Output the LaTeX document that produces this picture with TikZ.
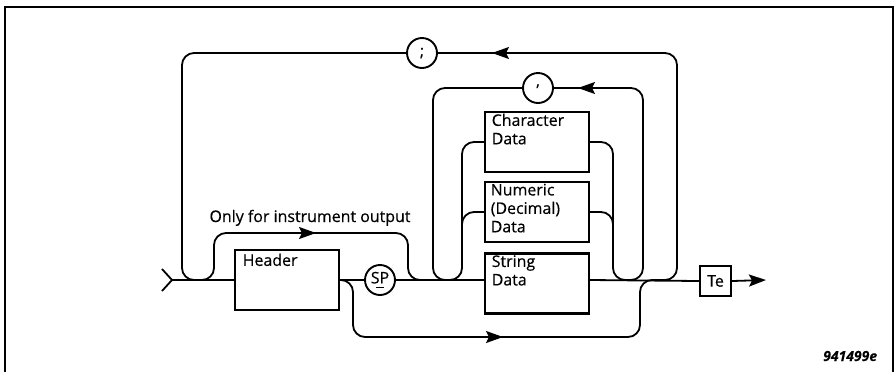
\documentclass[tikz,border=0pt]{standalone}
\usepackage{fontspec}
\setmainfont{Open Sans}[FakeBold=0.4]
\newfontfamily\figfont{Open Sans}[FakeBold=0.2]
\usetikzlibrary{arrows.meta}
\begin{document}
\begin{tikzpicture}[x=1bp,y=-1bp, line width=1.8bp,
  box/.style={draw, line width=2.3bp, minimum width=104bp, minimum height=60bp, inner sep=0pt},
  circ/.style={draw, circle, minimum size=30bp, inner sep=0pt, line width=1.9bp, font=\fontsize{16}{18}\selectfont},
  txt/.style={font=\fontsize{16}{18.5}\selectfont, inner sep=0pt, align=left},
  rail/.style={rounded corners=12bp},
  tip/.style={-{Stealth[length=17bp,width=12bp,inset=3bp]}}
]
\useasboundingbox (0,0) rectangle (895,371);
% frame
\draw[line width=2bp] (5,375) -- (5,7) -- (893,7) -- (893,375);

% nodes
\node[box] (hdr) at (287,280) {};
\node[txt, anchor=north west] (hdrt) at ([shift={(8,4)}]hdr.north west) {Header};
\node[box] (char) at (537,142) {};
\node[txt, anchor=north west] (chart) at ([shift={(7,2)}]char.north west) {Character\\Data};
\node[box] (num) at (537,212) {};
\node[txt, anchor=north west] (numt) at ([shift={(6,2)}]num.north west) {Numeric\\(Decimal)\\Data};
\node[box] (str) at (537,283.5) {};
\node[txt, anchor=north west] (strt) at ([shift={(7,2)}]str.north west) {String\\Data};
\node[box, minimum width=31bp, minimum height=30bp, txt, draw, line width=2.3bp] (te) at (715.5,281) {Te};
\node[circ] (sp) at (380,280) {\ooalign{SP\cr\hidewidth\rule[-0.3em]{0.45em}{0.08em}\hidewidth\cr}};
\node[circ] (semi) at (422,53) {;};
\node[circ] (comma) at (538,88) {\raisebox{0.35em}{,}};
\node[txt, anchor=base] (note) at (310,222) {Only for instrument output};
\node[font=\fontsize{14}{15}\selectfont\figfont\bfseries\itshape, inner sep=0pt, anchor=base east] (fig) at (878,361) {941499e};

% junction coordinates
\coordinate (in) at (172,280);
\coordinate (jA) at (205,280);
\coordinate (jB) at (425,280);
\coordinate (jC) at (450,280);
\coordinate (jD) at (625,280);
\coordinate (jE) at (660,280);
\coordinate (jF) at (668,280);
\coordinate (out) at (766,280);

% entry
\draw (162,269) -- (in) -- (162,291);
% main line
\draw (in) -- (hdr.west);
\draw (hdr.east) -- (sp.west);
\draw (sp.east) -- (str.west |- sp.east);
\draw (str.east |- sp.east) -- (te.west);
\draw[tip] (te.east) -- (out);

% outer ; loop
\draw[rail] (semi.west) -| (182,280) -- (jA);
\draw[rail] (semi.east) -- (677,53) -- (677,280) -- (jE);
\draw[tip] (509,53) -- (492,53);

% only for instrument output
\draw[rail] (jA) -- (214,280) -- (214,233) -- (408,233) -- (408,280) -- (jB);
\draw[tip] (299,233) -- (316,233);

% inner , loop
\draw[rail] (comma.west) -| (433,280) -- (jC);
\draw[rail] (comma.east) -| (643,280) -- (jD);
\draw[tip] (595,88) -- (578,88);

% branches
\draw[rail] (jC) -| (462,142) -- (char.west);
\draw[rail] (462,250) |- (num.west);
\draw[rail] (jD) -| (613,142) -- (char.east);
\draw[rail] (613,250) |- (num.east);

% bypass of SP
\draw[rail] (hdr.east) -- (353,280) -- (353,337) -- (640,337) -- (640,280) -- (jF);
\draw[tip] (486,337) -- (503,337);
\end{tikzpicture}
\end{document}
